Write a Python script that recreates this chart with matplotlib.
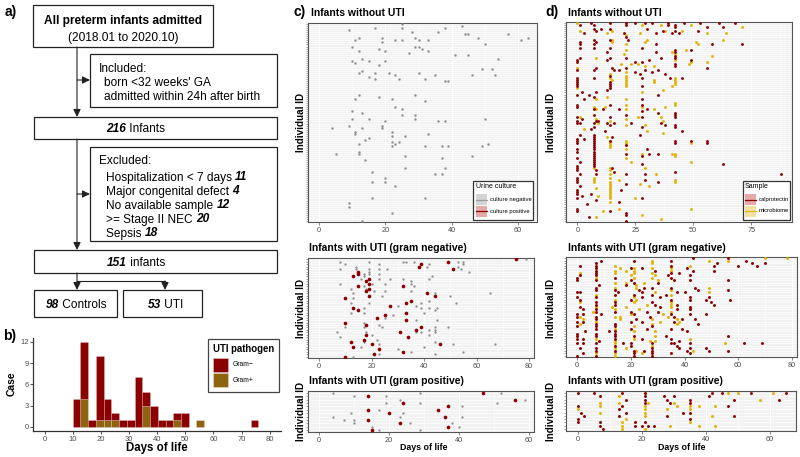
import matplotlib
matplotlib.use('Agg')
import matplotlib.pyplot as plt
from matplotlib.patches import Rectangle
from matplotlib.ticker import MultipleLocator

plt.rcParams['font.family'] = ['Liberation Sans', 'DejaVu Sans']

# ---------------- DATA ----------------
# b) histogram of UTI onset (bins of 2.75 days starting at day 9.95)
hist_start = 9.95
hist_width = 2.75
hist_gram_neg = [4, 8, 1, 9, 3, 1, 1, 1, 7, 2, 3, 1, 1, 1, 2, 0, 0, 0, 0, 0, 0, 0, 0, 1]
hist_gram_pos = [0, 4, 0, 1, 1, 1, 0, 0, 0, 3, 0, 0, 0, 1, 0, 0, 1, 0, 0, 0, 0, 0, 0, 0]

# c) top: infants without UTI, urine culture negative (row from top, day)
ct_rows = [0, 1, 2, 2, 2, 3, 4, 4, 5, 5, 5, 7, 8, 7, 7, 8, 8, 8, 8, 7, 8, 7, 9, 11, 12, 11, 11, 12, 13, 10,
           13, 13, 14, 15, 15, 17, 18, 19, 18, 18, 17, 20, 22, 22, 24, 23, 24, 24, 25, 24, 25, 25, 25, 26, 27,
           27, 27, 28, 28, 35, 36, 35, 37, 37, 38, 41, 42, 43, 44, 45, 45, 47, 47, 47, 48, 48, 48, 47, 51, 50,
           51, 50, 51, 53, 54, 53, 54, 55, 55, 56, 57, 59, 58, 59, 58, 60, 60, 60, 60, 60, 59, 64, 63, 64, 65,
           65, 67, 66, 71, 71, 73, 74, 74, 76, 78, 78, 80, 86, 86, 88, 90, 93, 97]
ct_days = [25, 43, 17, 25, 38, 9, 28, 36, 44, 45, 57, 12, 11, 19, 29, 30, 23, 25, 33, 48, 61, 63, 19, 10, 18, 29,
           30, 31, 33, 50, 12, 20, 27, 41, 45, 13, 10, 11, 15, 20, 54, 18, 49, 52, 12, 13, 17, 21, 23, 30, 35, 46,
           53, 15, 17, 24, 32, 38, 39, 12, 18, 29, 11, 22, 32, 23, 25, 10, 13, 25, 29, 10, 15, 29, 20, 36, 38, 50,
           4, 9, 13, 19, 19, 11, 11, 22, 33, 22, 26, 15, 14, 12, 22, 23, 24, 22, 32, 37, 39, 49, 51, 5, 12, 12, 26,
           46, 14, 37, 26, 38, 16, 35, 37, 20, 20, 16, 23, 16, 32, 9, 9, 22, 13]

# c) middle: gram negative UTI, per infant row (negative / positive cultures)
cm_neg = [[79], [8, 19, 32, 33, 36, 53, 55], [10, 23, 42, 55], [14, 41, 53], [8, 14, 19, 23, 26, 54],
          [19, 57], [17, 19, 23], [17, 43], [16, 23, 27, 32, 42], [35], [8, 20, 25, 35], [17, 36], [12, 18],
          [21, 25, 35], [13, 44, 65], [24, 50], [13], [42], [12, 19, 39, 52], [30, 37], [17, 39, 42, 45], [44],
          [12, 17, 40], [28], [25], [37, 45], [17], [23], [10, 17, 24, 44, 49], [42, 44], [7, 18, 37, 39, 44],
          [20, 42], [8], [22], [17, 44], [23, 51, 67], [16, 40], [30], [35, 55], [23, 44], [13]]
cm_pos = [[75], [49], [39], [38], [51], [15], [15], [13], [19], [18], [19], [15, 32], [19], [18], [41],
          [19, 44], [10], [35], [33], [27], [13], [15], [33], [25], [22], [33], [10], [18], [39], [37], [31],
          [18], [34], [17], [12], [20, 46], [13], [23], [32], [21], [10]]

# c) bottom: gram positive UTI
cb_neg = [[4, 29, 52], [10, 19], [23, 59], [19, 29, 51], [41], [17], [9, 24], [4, 23, 41], [7, 10],
          [10, 26, 38], [15, 40], [17, 29]]
cb_pos = [[47], [14], [56], [24], [37], [14, 34], [20], [36], [14], [23], [37], [15]]

# d) top: infants without UTI (calprotectin / microbiome sample days per row)
dt_cal = [[6, 14, 21, 25, 29, 32, 39, 46, 53, 61, 68], [1, 7, 21, 39, 42], [42, 56, 63], [7, 10, 14, 30],
          [8, 37, 42, 52], [3, 20, 34, 41, 44], [], [21], [7, 14, 22], [1, 8], [1, 7, 34, 58, 71], [],
          [1, 7, 14, 28], [42, 49], [13, 34, 42], [], [42], [1, 14, 21, 36, 42], [0, 13, 31, 49], [0, 25, 28],
          [42], [42], [8, 15, 21, 56], [0, 7, 16, 18, 29, 35], [25, 32], [27, 38], [14], [0, 7, 28, 40, 45],
          [0], [0, 14], [0, 14], [0, 14, 28], [14], [13], [2, 8], [0, 5, 35], [7], [3, 28], [], [],
          [0, 14, 28], [0], [7, 11, 18, 30], [28], [35, 42], [7, 21, 42], [0, 14, 28, 42], [2], [0, 8, 9],
          [0, 1, 7, 13, 16, 23, 36], [14, 38, 42], [7, 28, 42], [6], [12, 45], [], [1, 7, 27], [7, 15],
          [0, 3, 7], [0, 7, 14, 42, 49, 56], [0, 7, 42, 56], [7, 21], [7], [0, 7, 30], [0, 7], [7, 21, 31, 35],
          [7, 28], [0, 7], [7], [1, 7], [7, 28, 63], [0, 7], [0, 15], [0, 8], [16, 42], [1, 8, 21, 29, 88], [],
          [0], [0, 29], [0, 35], [21], [1], [], [0, 19], [0], [0, 6], [2], [0, 28], [8], [18], [4], [], [0],
          [0, 14], [21], [21], [5], [], [21]]
dt_mic = [[0], [28, 36, 49], [71], [], [1, 15, 38, 45], [13, 27, 56, 64], [21], [], [15, 30, 63], [15, 29, 51],
          [21, 52], [], [], [21, 47], [41], [20, 42], [58], [8], [42], [49, 56], [19, 23, 26, 48], [29, 33], [0],
          [], [21], [14], [21], [14, 21, 42], [15, 21, 33, 42], [21, 33, 42], [21, 42], [21, 41], [0], [37], [28],
          [], [13], [8, 21], [], [42], [21, 42], [7, 12, 28, 38], [8, 21, 33], [], [], [], [1, 26, 36], [8, 21],
          [14, 37], [9], [21, 29], [], [3], [30], [37], [], [13], [], [14, 21], [14, 21, 49], [14, 21], [14], [21],
          [], [28, 41, 42], [42], [21], [], [23, 49], [], [], [7, 14, 29], [14], [], [14, 34], [], [7, 14],
          [7, 18, 42], [7, 14, 42], [14, 27], [14, 31], [8, 14], [14], [14], [14], [9, 14], [14, 25], [], [14],
          [], [], [18, 49], [11], [], [28], [8], [36], []]

# d) middle: gram negative UTI (calprotectin / microbiome days per row)
dm_cal = [[43, 56], [9, 21, 35, 63], [7, 52, 65, 70], [1, 7, 35, 51, 60, 67], [7, 20, 24, 41], [7, 29, 43, 51],
          [7, 35, 38], [1, 7, 34, 42], [0, 14, 35], [0, 7, 20, 36, 42, 56], [21, 30], [8, 18],
          [7, 25, 28, 35, 44], [7, 14, 23, 45, 56], [0, 1, 15, 24, 37, 40], [14, 21, 28, 33],
          [0, 7, 24, 31, 42, 49], [1, 20, 35, 42, 48, 57], [7, 14, 28, 50], [7, 14, 29, 37, 51], [1, 31, 42],
          [2, 7, 37, 42], [7, 14, 20, 26, 30], [0, 2, 9, 21, 35, 42, 48], [0, 7, 27, 36], [7, 22, 39, 44],
          [0, 2, 20, 24, 36], [7, 14, 45], [0, 7, 14, 28], [7, 20, 26, 35, 39], [3, 12, 14, 41], [0, 7, 14],
          [0, 7, 14, 21, 33, 56], [0, 2, 14, 24, 35], [8, 38], [0, 2, 7, 17, 20, 28, 35, 36, 42, 62, 69],
          [14, 20, 37], [1, 7, 28, 38, 42, 48], [7, 14, 21, 25, 28, 41, 49, 56], [2, 21, 28, 35, 42],
          [0, 7, 21, 28]]
dm_mic = [[70, 78], [28, 49, 56], [28], [14, 42], [16, 21, 28, 35], [14, 18, 21, 35], [1, 14, 21, 28], [20, 29],
          [7, 21, 28], [30], [14, 18, 25], [22], [14, 22, 49], [35], [29, 49], [7, 35], [21], [14, 22],
          [1, 21, 35], [26, 35], [7, 13, 18, 35], [14, 23, 42], [6, 35], [20, 32], [1, 14, 16, 34],
          [2, 16, 28, 37], [7, 31, 38], [1, 28, 37], [21], [14], [21, 29], [], [29], [7, 21, 42], [14, 27, 29],
          [14, 55], [28], [14, 18], [22, 43], [7, 14, 24], [14]]

# d) bottom: gram positive UTI
db_cal = [[0, 5, 14, 21, 42, 45, 54, 65], [7, 21, 27, 30, 41], [15, 21, 28, 35, 49, 63], [21, 29, 35],
          [0, 14, 47], [13], [1, 15, 33, 35], [2, 13, 28, 49], [0, 35], [0, 7, 18, 21], [7, 18, 20, 22, 24], [8]]
db_mic = [[21, 47, 50, 61], [13], [57], [7, 13, 22, 30], [7, 21, 31, 35, 38, 43], [0, 21, 28, 35], [7, 21],
          [21, 42], [15], [14, 35], [14, 29, 38, 43], [14, 21]]

# ---------------- STYLE ----------------
RED = '#8B0000'
BROWN = '#8E6410'
GRAY = '#8f8f8f'
YEL = '#E3B100'
TXT = '#4d4d4d'

W, H = 800, 457
fig = plt.figure(figsize=(8, 4.57), dpi=100)


def ax_px(x0, y0, x1, y1):
    return fig.add_axes([x0 / W, 1 - y1 / H, (x1 - x0) / W, (y1 - y0) / H])


# ---------------- b) histogram ----------------
axb = ax_px(33.4, 337.7, 281, 431.2)
lefts = [hist_start + k * hist_width for k in range(len(hist_gram_neg))]
axb.bar(lefts, hist_gram_pos, width=hist_width, align='edge', color=BROWN,
        edgecolor=(1, 1, 1, 0.35), linewidth=0.4)
axb.bar(lefts, hist_gram_neg, bottom=hist_gram_pos, width=hist_width, align='edge', color=RED,
        edgecolor=(1, 1, 1, 0.35), linewidth=0.4)
axb.set_xlim(-4, 84)
axb.set_ylim(-0.6, 12.6)
axb.set_xticks(range(0, 81, 10))
axb.set_yticks([0, 3, 6, 9, 12])
for s in ['top', 'right']:
    axb.spines[s].set_visible(False)
for s in ['left', 'bottom']:
    axb.spines[s].set_color('#333333')
    axb.spines[s].set_linewidth(0.9)
axb.tick_params(labelsize=5.5, labelcolor=TXT, length=2, width=0.6, color='#333333', pad=1.5)
axb.set_facecolor('none')


# ---------------- dot panels ----------------
def dot_axes(box, xlim, nrows, major, minor):
    ax = ax_px(*box)
    ax.set_facecolor('#F2F2F2')
    ax.set_xlim(*xlim)
    ax.set_ylim(-0.6, nrows - 0.4)
    ax.set_yticks(range(nrows))
    ax.set_yticklabels([])
    ax.xaxis.set_major_locator(MultipleLocator(major))
    ax.xaxis.set_minor_locator(MultipleLocator(minor))
    ax.grid(which='major', axis='x', color='white', lw=0.8)
    ax.grid(which='minor', axis='x', color='white', lw=0.4)
    ax.grid(which='major', axis='y', color='white', lw=0.45)
    ax.set_axisbelow(True)
    ax.tick_params(axis='y', length=1.6, width=0.4, color='#555555', pad=0)
    ax.tick_params(axis='x', which='major', length=2, width=0.5, color='#555555',
                   labelsize=5.3, labelcolor=TXT, pad=1.5)
    ax.tick_params(axis='x', which='minor', length=0)
    for s in ax.spines.values():
        s.set_color('#555555')
        s.set_linewidth(0.8)
    return ax


def plot_rows(ax, nrows, rowlists, color, size):
    xs, ys = [], []
    for r, days in enumerate(rowlists):
        for d in days:
            xs.append(d)
            ys.append(nrows - 1 - r)
    ax.scatter(xs, ys, s=size, color=color, linewidths=0, zorder=3)


# c top
n = 98
axct = dot_axes((308, 23, 537, 222), (-3.3, 65.7), n, 20, 10)
axct.scatter(ct_days, [n - 1 - r for r in ct_rows], s=3, color=GRAY, linewidths=0, zorder=3)

# c middle
n = 41
axcm = dot_axes((308, 258, 534, 358), (-4.2, 81.9), n, 20, 10)
plot_rows(axcm, n, cm_neg, GRAY, 2.8)
plot_rows(axcm, n, cm_pos, RED, 7)

# c bottom
n = 12
axcb = dot_axes((308, 391, 534, 432), (-3.2, 61.5), n, 20, 10)
plot_rows(axcb, n, cb_neg, GRAY, 2.8)
plot_rows(axcb, n, cb_pos, RED, 7)

# d top
n = 98
axdt = dot_axes((566, 22, 792, 222), (-4.9, 92.6), n, 25, 12.5)
plot_rows(axdt, n, dt_mic, YEL, 4.2)
plot_rows(axdt, n, dt_cal, RED, 4.2)

# d middle
n = 41
axdm = dot_axes((566, 257, 797, 357), (-4.2, 81.9), n, 20, 10)
plot_rows(axdm, n, dm_mic, YEL, 4.5)
plot_rows(axdm, n, dm_cal, RED, 4.5)

# d bottom
n = 12
axdb = dot_axes((566, 391, 796, 431), (-3.6, 68.2), n, 20, 10)
plot_rows(axdb, n, db_mic, YEL, 4.5)
plot_rows(axdb, n, db_cal, RED, 4.5)

# ---------------- overlay: flowchart, labels, legends ----------------
ov = fig.add_axes([0, 0, 1, 1], zorder=10)
ov.set_xlim(0, W)
ov.set_ylim(H, 0)
ov.axis('off')
ov.patch.set_alpha(0)

renderer = fig.canvas.get_renderer()
FS = 8.6
EC = '#222222'


def rich(x, y, parts, size=FS, ha='left'):
    ts = []
    for s, w, st in parts:
        t = ov.text(0, y, s, fontsize=size, fontweight=w, fontstyle=st, va='center_baseline', ha='left')
        ts.append(t)
    widths = [t.get_window_extent(renderer).width for t in ts]
    total = sum(widths)
    cx = x - total / 2 if ha == 'center' else x
    for t, wd in zip(ts, widths):
        t.set_x(cx)
        cx += wd


def box(x0, y0, x1, y1):
    ov.add_patch(Rectangle((x0, y0), x1 - x0, y1 - y0, facecolor='white', edgecolor=EC, lw=0.9))


def arrow(x0, y0, x1, y1):
    ov.annotate('', xy=(x1, y1), xytext=(x0, y0),
                arrowprops=dict(arrowstyle='-|>,head_length=0.45,head_width=0.22', color=EC, lw=0.8,
                                shrinkA=0, shrinkB=0))


# lines and arrows
arrow(77, 47, 77, 117)
arrow(77, 80, 90, 80)
arrow(77, 139, 77, 250)
arrow(77, 194, 90, 194)
arrow(77, 273, 77, 290)
ov.plot([77, 165], [281, 281], color=EC, lw=0.8)
arrow(165, 281, 165, 290)

box(33, 5, 213, 47)
ov.text(123, 21, 'All preterm infants admitted', fontsize=FS, fontweight='bold', ha='center', va='center')
ov.text(123, 38, '(2018.01 to 2020.10)', fontsize=FS, ha='center', va='center')

box(90, 54, 277, 107)
ov.text(99, 69, 'Included:', fontsize=FS, va='center')
ov.text(104, 83, "born <32 weeks' GA", fontsize=FS, va='center')
ov.text(104, 97, 'admitted within 24h after birth', fontsize=FS, va='center')

box(34, 117, 277, 139)
rich(136, 128, [('216', 'bold', 'italic'), (' Infants', 'normal', 'normal')], ha='center')

box(90, 147, 277, 241)
ov.text(99, 161, 'Excluded:', fontsize=FS, va='center')
excl = [('Hospitalization < 7 days ', '11'), ('Major congenital defect ', '4'),
        ('No available sample ', '12'), ('>= Stage II NEC ', '20'), ('Sepsis ', '18')]
for i, (lab, num) in enumerate(excl):
    rich(106, 176 + i * 14, [(lab, 'normal', 'normal'), (num, 'bold', 'italic')])

box(34, 250, 277, 273)
rich(136, 262, [('151', 'bold', 'italic'), (' infants', 'normal', 'normal')], ha='center')

box(34, 290, 117, 317)
rich(76, 303, [('98', 'bold', 'italic'), (' Controls', 'normal', 'normal')], ha='center')
box(123, 290, 202, 317)
rich(166, 303, [('53', 'bold', 'italic'), (' UTI', 'normal', 'normal')], ha='center')

# panel letters
for lab, x, y in [('a)', 5, 12), ('b)', 3, 336), ('c)', 294, 12), ('d)', 545, 12)]:
    ov.text(x, y, lab, fontsize=10, fontweight='bold', va='center')

# b labels
ov.text(12, 384, 'Case', fontsize=7.5, fontweight='bold', rotation=90, ha='center', va='center')
ov.text(157, 448, 'Days of life', fontsize=8.3, fontweight='bold', ha='center', va='center')

# b legend
ov.add_patch(Rectangle((208, 339), 71, 53, facecolor='white', edgecolor='#444444', lw=0.9))
ov.text(213, 349, 'UTI pathogen', fontsize=6.9, fontweight='bold', va='center')
ov.add_patch(Rectangle((213, 357.5), 15, 14.5, facecolor=RED, edgecolor=(1, 1, 1, 0.5), lw=0.4))
ov.add_patch(Rectangle((213, 372.5), 15, 14.5, facecolor=BROWN, edgecolor=(1, 1, 1, 0.5), lw=0.4))
ov.text(233, 364.5, 'Gram\u2212', fontsize=4.9, va='center')
ov.text(233, 380, 'Gram+', fontsize=4.9, va='center')

# titles of dot panels
titles = [(311, 12.5, 'Infants without UTI'), (309, 248, 'Infants with UTI (gram negative)'),
          (309, 381.5, 'Infants with UTI (gram positive)'),
          (568, 12.5, 'Infants without UTI'), (568, 248, 'Infants with UTI (gram negative)'),
          (568, 381.5, 'Infants with UTI (gram positive)')]
for x, y, t in titles:
    ov.text(x, y, t, fontsize=7.5, fontweight='bold', va='center')

# y labels
for x in (301, 551):
    for yc in ((23 + 222) / 2, (258 + 358) / 2, (391 + 432) / 2):
        ov.text(x, yc, 'Individual ID', fontsize=7.1, fontweight='bold', rotation=90,
                ha='center', va='center')
# x labels
ov.text(424, 448, 'Days of life', fontsize=6.4, fontweight='bold', ha='center', va='center')
ov.text(682, 448, 'Days of life', fontsize=6.4, fontweight='bold', ha='center', va='center')

# c legend
ov.add_patch(Rectangle((472.7, 180.7), 60, 39.3, facecolor='white', edgecolor='#333333', lw=0.9))
ov.text(476, 187, 'Urine culture', fontsize=5, va='center')
ov.add_patch(Rectangle((476, 194), 11.3, 11, facecolor='#D4D4D4', edgecolor='none'))
ov.plot([476, 487.3], [199.5, 199.5], color='#9a9a9a', lw=0.9)
ov.add_patch(Rectangle((476, 206), 11.3, 10.7, facecolor='#E6A9A9', edgecolor='none'))
ov.plot([476, 487.3], [211.3, 211.3], color=RED, lw=0.9)
ov.text(489.5, 200, 'culture negative', fontsize=4.2, va='center')
ov.text(489.5, 211.5, 'culture positive', fontsize=4.2, va='center')

# d legend
ov.add_patch(Rectangle((742.7, 180.7), 47.3, 39.3, facecolor='white', edgecolor='#333333', lw=0.9))
ov.text(745, 187, 'Sample', fontsize=5, va='center')
ov.add_patch(Rectangle((745.3, 194), 10.7, 11, facecolor='#E6A9A9', edgecolor='none'))
ov.plot([745.3, 756], [199.5, 199.5], color=RED, lw=0.9)
ov.add_patch(Rectangle((745.3, 206), 10.7, 10.7, facecolor='#F3E3A0', edgecolor='none'))
ov.plot([745.3, 756], [211.3, 211.3], color=YEL, lw=0.9)
ov.text(758.3, 199.5, 'calprotectin', fontsize=4.2, va='center')
ov.text(758.3, 211, 'microbiome', fontsize=4.2, va='center')

fig.savefig('out.png', dpi=100)
